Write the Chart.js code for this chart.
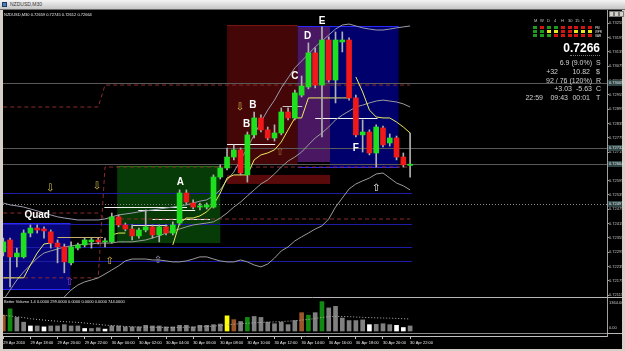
<!DOCTYPE html>
<html>
<head>
<meta charset="utf-8">
<title>NZDUSD,M30</title>
<script src="https://cdn.jsdelivr.net/npm/chart.js@4.4.1/dist/chart.umd.min.js"></script>
<style>
html,body{margin:0;padding:0;}
body{width:625px;height:351px;overflow:hidden;background:#d4d0c8;position:relative;font-family:"Liberation Sans",Arial,sans-serif;}
#titlebar{position:absolute;left:0;top:0;width:625px;height:9px;background:linear-gradient(#f4f4f4,#c6c6c6);border-bottom:1px solid #6a6a6a;}
#titlebar .ico{position:absolute;left:2px;top:2px;width:5px;height:5px;background:#4a7fb8;border:1px solid #1c3c66;box-sizing:border-box;}
.tiny{position:absolute;white-space:nowrap;transform-origin:0 0;transform:scale(0.5);font-size:8px;line-height:8px;}
#cv{position:absolute;left:0;top:10px;}
#btns{position:absolute;left:609px;top:11px;width:15px;height:6px;}
#btns span{position:absolute;top:0;width:5px;height:6px;background:#d4d0c8;border:1px solid #7a7a7a;box-sizing:border-box;}
.info{position:absolute;white-space:nowrap;color:#d2d2d2;font-size:7px;line-height:7px;}
.r{text-align:right;}
.blk{position:absolute;width:4px;height:3px;}
</style>
</head>
<body>
<div id="titlebar"><div class="ico"></div><div class="tiny" style="left:10px;top:2px;color:#333;font-size:10px;line-height:10px;">NZDUSD,M30</div></div>
<canvas id="cv" width="625" height="341"></canvas>
<div id="btns"><span style="left:0"></span><span style="left:5px"></span><span style="left:10px"></span></div>
<div class="tiny" style="left:4px;top:13px;color:#e8e8e8;">NZDUSD,M30 0.72659 0.72745 0.72612 0.72664</div>
<div class="tiny" style="left:4px;top:300px;color:#e8e8e8;">Better Volume 1.4 0.0000 299.0000 0.0000 0.0000 0.0000 744.0000</div>
<div id="panel"></div>
<script>
// ---------------- data ----------------
const timeLabels = ['29 Apr 2010','29 Apr 18:00','29 Apr 20:00','29 Apr 22:00','30 Apr 00:00','30 Apr 02:00','30 Apr 04:00','30 Apr 06:00','30 Apr 08:00','30 Apr 10:00','30 Apr 12:00','30 Apr 14:00','30 Apr 16:00','30 Apr 18:00','30 Apr 20:00','30 Apr 22:00'];
const priceTicks = [0.72115,0.72175,0.72235,0.72295,0.72355,0.72415,0.72475,0.72535,0.72595,0.72655,0.72715,0.72775,0.72835,0.72895,0.72955,0.73015,0.73075,0.73135,0.73195,0.73255];

const opens = [0.72296,0.72346,0.72275,0.72275,0.72375,0.72396,0.72392,0.72380,0.72333,0.72317,
 0.72250,0.72312,0.72325,0.72338,0.72346,0.72338,0.72338,0.72443,0.72409,0.72392,
 0.72363,0.72388,0.72401,0.72367,0.72401,0.72375,0.72417,0.72543,0.72501,0.72484,
 0.72484,0.72484,0.72610,0.72648,0.72694,0.72724,0.72619,0.72787,0.72858,0.72808,
 0.72774,0.72795,0.72883,0.72858,0.72954,0.72988,0.73131,0.72996,0.73185,0.73017,
 0.73177,0.73185,0.72942,0.72787,0.72799,0.72711,0.72816,0.72753,0.72774,0.72694,
 0.72659];
const highs = [0.72354,0.72354,0.72312,0.72388,0.72409,0.72409,0.72401,0.72388,0.72346,0.72329,
 0.72338,0.72333,0.72354,0.72354,0.72354,0.72354,0.72459,0.72451,0.72417,0.72409,
 0.72396,0.72472,0.72409,0.72409,0.72409,0.72422,0.72556,0.72556,0.72514,0.72501,
 0.72501,0.72619,0.72661,0.72732,0.72745,0.72732,0.72799,0.72883,0.72871,0.72820,
 0.72829,0.72900,0.72900,0.72975,0.73034,0.73173,0.73152,0.73240,0.73198,0.73219,
 0.73219,0.73194,0.72954,0.72850,0.72808,0.72829,0.72824,0.72791,0.72782,0.72711,
 0.72795];
const lows = [0.72279,0.72149,0.72233,0.72270,0.72359,0.72375,0.72354,0.72312,0.72250,0.72208,
 0.72241,0.72304,0.72317,0.72312,0.72329,0.72317,0.72333,0.72401,0.72384,0.72346,
 0.72354,0.72380,0.72354,0.72338,0.72367,0.72367,0.72409,0.72497,0.72476,0.72472,
 0.72476,0.72480,0.72602,0.72640,0.72682,0.72619,0.72589,0.72774,0.72799,0.72766,
 0.72761,0.72787,0.72850,0.72850,0.72946,0.72980,0.72984,0.72778,0.73009,0.72921,
 0.73135,0.72933,0.72778,0.72715,0.72703,0.72652,0.72736,0.72740,0.72682,0.72652,
 0.72610];
const closes = [0.72338,0.72275,0.72291,0.72375,0.72396,0.72388,0.72384,0.72333,0.72317,0.72254,
 0.72317,0.72325,0.72346,0.72346,0.72338,0.72342,0.72443,0.72409,0.72392,0.72363,
 0.72388,0.72401,0.72367,0.72401,0.72375,0.72409,0.72543,0.72505,0.72484,0.72489,
 0.72493,0.72610,0.72648,0.72694,0.72724,0.72627,0.72787,0.72858,0.72808,0.72774,
 0.72795,0.72883,0.72858,0.72963,0.72992,0.73131,0.72996,0.73185,0.73017,0.73185,
 0.73185,0.72942,0.72787,0.72799,0.72711,0.72820,0.72745,0.72774,0.72694,0.72661,
 0.72664];

const volumes = [695,973,598,389,222,222,181,222,222,278,
 222,222,111,111,139,83,222,222,181,181,
 181,250,222,222,181,181,250,250,181,250,
 250,278,306,667,500,417,598,639,598,389,
 320,389,278,459,806,695,806,1293,1015,1084,
 570,459,459,487,278,292,320,278,250,153,
 222];
const volumeKinds = ['brown','green','grey','grey','white','grey','white','grey','grey','grey',
 'grey','grey','white','grey','grey','white','grey','grey','grey','grey',
 'grey','grey','grey','grey','grey','grey','grey','grey','grey','grey',
 'grey','grey','grey','yellow','brown','grey','green','grey','grey','grey',
 'grey','grey','grey','grey','brown','green','grey','green','grey','grey',
 'grey','grey','grey','grey','white','grey','grey','grey','white','white',
 'grey'];
const volumeAverage = [690,660,630,590,540,510,480,455,430,410,
 395,380,350,320,290,260,240,220,200,185,
 175,170,165,160,155,155,160,165,170,180,
 195,215,240,270,300,320,340,360,375,390,
 400,415,430,450,480,510,550,600,630,640,
 640,630,615,600,590,580,570,565,555,540,
 530];

const bandUpper = [0.72501,0.72493,0.72489,0.72484,0.72476,0.72468,0.72459,0.72451,0.72443,0.72438,
 0.72434,0.72430,0.72430,0.72430,0.72430,0.72434,0.72443,0.72451,0.72455,0.72459,
 0.72464,0.72468,0.72472,0.72476,0.72480,0.72484,0.72489,0.72493,0.72501,0.72509,
 0.72514,0.72531,0.72556,0.72598,0.72631,0.72682,0.72732,0.72787,0.72841,0.72891,
 0.72933,0.72984,0.73026,0.73068,0.73097,0.73126,0.73156,0.73181,0.73206,0.73231,
 0.73248,0.73252,0.73244,0.73236,0.73231,0.73227,0.73227,0.73231,0.73236,0.73240,
 0.73244];
const bandMiddle = [0.72094,0.72136,0.72178,0.72212,0.72241,0.72270,0.72291,0.72300,0.72308,0.72317,
 0.72321,0.72325,0.72329,0.72329,0.72333,0.72333,0.72333,0.72338,0.72338,0.72338,
 0.72342,0.72346,0.72354,0.72363,0.72375,0.72384,0.72392,0.72401,0.72409,0.72413,
 0.72417,0.72422,0.72438,0.72459,0.72484,0.72505,0.72531,0.72556,0.72581,0.72598,
 0.72623,0.72652,0.72677,0.72694,0.72715,0.72745,0.72774,0.72795,0.72820,0.72850,
 0.72870,0.72887,0.72904,0.72912,0.72921,0.72929,0.72933,0.72929,0.72925,0.72917,
 0.72904];
const bandLower = [null,null,null,null,null,null,null,null,null,0.72107,
 0.72136,0.72157,0.72170,0.72178,0.72187,0.72203,0.72220,0.72237,0.72258,0.72266,
 0.72266,0.72266,0.72262,0.72262,0.72258,0.72254,0.72254,0.72258,0.72266,0.72275,
 0.72275,0.72266,0.72258,0.72254,0.72254,0.72262,0.72254,0.72241,0.72233,0.72245,
 0.72270,0.72300,0.72317,0.72342,0.72359,0.72375,0.72392,0.72405,0.72434,0.72484,
 0.72522,0.72560,0.72581,0.72594,0.72606,0.72623,0.72627,0.72606,0.72585,0.72573,
 0.72556];
const trailSupport = [0.72187,0.72187,0.72187,0.72187,0.72241,0.72291,0.72329,0.72333,null,null,
 null,null,null,null,null,null,0.72367,0.72375,0.72375,null,
 null,null,null,null,null,0.72325,0.72417,0.72438,0.72438,0.72447,
 0.72464,0.72493,0.72543,0.72606,0.72619,0.72619,0.72619,0.72682,0.72703,0.72711,
 0.72724,0.72757,0.72808,0.72858,0.72858,0.72942,0.72942,0.72942,0.72942,0.72942,
 0.72942,0.72942,null,null,null,null,null,null,null,null,
 null];
const trailResist = [null,null,null,null,null,null,null,null,null,null,
 null,null,null,null,null,null,null,null,null,null,
 null,null,null,null,null,null,null,null,null,null,
 null,null,null,null,null,null,null,null,null,null,
 null,null,null,null,null,null,null,null,null,null,
 null,null,0.73030,0.72967,0.72891,0.72862,0.72858,0.72858,0.72841,0.72820,
 0.72795];
const levelUpper = Array(15).fill(0.72904).concat(Array(46).fill(0.72996));
const levelMiddle = Array(15).fill(0.72459).concat(Array(46).fill(0.72434));
const levelLower = Array(15).fill(0.72187).concat(Array(46).fill(0.72652));

// annotation objects (bar index / price coordinates)
const zones = [
 {i0:-0.5, i1:9.9,  top:0.72417, bottom:0.72140, kind:'quad'},
 {i0:16.8, i1:32.0, top:0.72657, bottom:0.72333, kind:'green'},
 {i0:33.0, i1:43.4, top:0.73248, bottom:0.72661, kind:'maroon'},
 {i0:43.4, i1:48.2, top:0.73244, bottom:0.72673, kind:'purple'},
 {i0:48.2, i1:58.3, top:0.73244, bottom:0.72652, kind:'navy'},
 {i0:33.0, i1:48.2, top:0.72619, bottom:0.72581, kind:'strip'}
];
const priceLines = [
 {p:0.73005, kind:'grey', label:'0.73005'},
 {p:0.72732, kind:'grey', label:'0.72732'},
 {p:0.72664, kind:'grey', label:'0.72664'},
 {p:0.72497, kind:'dot',  label:'0.72497'}
];
const segments = [
 {i0:-0.5, i1:60.3, p:0.72543, kind:'blue'},
 {i0:-0.5, i1:60.3, p:0.72413, kind:'blue'},
 {i0:-0.5, i1:60.3, p:0.72317, kind:'blue'},
 {i0:-0.5, i1:60.3, p:0.72258, kind:'blue'},
 {i0:-0.5, i1:9.9,  p:0.72417, kind:'blueEdge'},
 {i0:-0.5, i1:9.9,  p:0.72140, kind:'blueEdge'},
 {i0:16.8, i1:32.0, p:0.72657, kind:'greenEdge'},
 {i0:33.0, i1:43.4, p:0.73248, kind:'redEdge'},
 {i0:43.4, i1:58.3, p:0.73244, kind:'blueEdge'},
 {i0:43.4, i1:58.3, p:0.72652, kind:'blueEdge'},
 {i0:14.9, i1:27.1, p:0.72484, kind:'white'},
 {i0:19.9, i1:28.3, p:0.72472, kind:'white'},
 {i0:22.0, i1:30.5, p:0.72434, kind:'white'},
 {i0:19.0, i1:24.2, p:0.72409, kind:'pale'},
 {i0:8.0,  i1:14.7, p:0.72359, kind:'khaki'},
 {i0:33.0, i1:40.1, p:0.72749, kind:'white'},
 {i0:41.2, i1:44.1, p:0.72909, kind:'silver'},
 {i0:46.0, i1:55.2, p:0.72858, kind:'white'}
];
const arrows = [
 {i:6.9,  p:0.72564, ch:'\u21E9', kind:'khaki'},
 {i:13.8, p:0.72569, ch:'\u21E9', kind:'khaki'},
 {i:15.7, p:0.72254, ch:'\u21E7', kind:'khaki'},
 {i:22.8, p:0.72262, ch:'\u21E7', kind:'slate'},
 {i:9.8,  p:0.72166, ch:'\u21E7', kind:'violet'},
 {i:34.9, p:0.72904, ch:'\u21E9', kind:'khaki'},
 {i:40.8, p:0.72715, ch:'\u21E7', kind:'brown'},
 {i:55.0, p:0.72564, ch:'\u21E7', kind:'white'}
];
const letters = [
 {i:5.0,  p:0.72451, t:'Quad'},
 {i:26.1, p:0.72589, t:'A'},
 {i:36.8, p:0.72912, t:'B'},
 {i:35.9, p:0.72833, t:'B'},
 {i:43.0, p:0.73034, t:'C'},
 {i:44.9, p:0.73202, t:'D'},
 {i:47.0, p:0.73264, t:'E'},
 {i:52.0, p:0.72732, t:'F'}
];
const volumeScaleLabels = [{v:1364, t:'1364.00'}, {v:0, t:'0.00'}];

// info panel
const tfLabels = ['M','W','D','4','H','30','15','5','1'];
const tfRows = ['PM','WPR','SAR'];
const tfStates = [
 ['g','r','g','g','r','r','r','r','r'],
 ['g','g','y','y','r','r','y','y','y'],
 ['g','g','g','r','r','r','r','r','r']
];
const lastPrice = '0.7266';

// ---------------- styles ----------------
const zoneFill = {quad:'#06067a', green:'#063a06', maroon:'#440606', purple:'#4a1862', navy:'#00006c', strip:'#5a0a0a'};
const segColor = {blue:'#1c1ca8', blueEdge:'#2a2aff', greenEdge:'#137a13', redEdge:'#7a1616', white:'#f2f2f2', pale:'#e4e4b8', khaki:'#c8b070', silver:'#c4c4c4'};
const arrowColor = {khaki:'#d6c04a', slate:'#9a9ab8', violet:'#9040d0', brown:'#a86a30', white:'#ffffff'};
const volColor = {grey:'#808080', white:'#ffffff', green:'#118a11', brown:'#9a5528', yellow:'#ffff00'};
const tfColor = {g:'#1d9a1d', r:'#d01414', y:'#e6e61e'};

// ---------------- info panel (HTML text) ----------------
(function(){
  const panel = document.getElementById('panel');
  let h = '';
  tfLabels.forEach((t,k)=>{
    const cx = 535 + k*6.9;
    h += `<div class="tiny" style="left:${cx-1.5}px;top:19px;color:#c8c8c8;">${t}</div>`;
    tfStates.forEach((row,r)=>{
      h += `<div class="blk" style="left:${cx-2}px;top:${26+r*4}px;background:${tfColor[row[k]]};"></div>`;
    });
  });
  tfRows.forEach((t,r)=>{
    h += `<div class="tiny" style="left:595px;top:${26+r*4}px;color:#e0e0e0;font-size:6px;line-height:6px;">${t}</div>`;
  });
  h += `<div class="info r" style="left:540px;width:60px;top:42px;font-size:12px;line-height:12px;font-weight:bold;color:#fff;">${lastPrice}</div>`;
  h += `<div style="position:absolute;left:570px;top:55px;width:30px;border-top:1px dotted #777;"></div>`;
  const rows = [
    [[592,'6.9 (9.0%)']], [[558,'+32'],[590,'10.82']], [[592,'92 / 76 (120%)']],
    [[572,'+3.03'],[592,'-5.63']], [[543,'22:59'],[568,'09:43'],[590,'00:01']]
  ];
  const tags = ['S','$','R','C','T'];
  const ys = [59,68,77,85,94];
  rows.forEach((row,r)=>{
    row.forEach(([right,t])=>{ h += `<div class="info r" style="left:${right-60}px;width:60px;top:${ys[r]}px;">${t}</div>`; });
    h += `<div class="info" style="left:596px;top:${ys[r]}px;">${tags[r]}</div>`;
  });
  panel.innerHTML = h;
})();

// ---------------- chart ----------------
const yMax = 0.73311, yMin = 0.71943;       // price range of the plot area
const mainFloor = 0.72107;                   // bottom of the price pane
const volTop = 1452, volBottom = -44;        // volume pane limits
const idx = opens.map((_,i)=>i);
const pts = arr => arr.map((v,i)=>({x:i, y:v}));

function hline(ctx, x0, x1, py, color, dash){
  ctx.save(); ctx.strokeStyle = color; ctx.lineWidth = 1; ctx.setLineDash(dash||[]);
  const yy = Math.round(py) + 0.5;
  ctx.beginPath(); ctx.moveTo(x0, yy); ctx.lineTo(x1, yy); ctx.stroke(); ctx.restore();
}

const overlay = {
  id:'overlay',
  beforeDraw(chart){
    const {ctx, chartArea:a} = chart;
    ctx.save(); ctx.fillStyle = '#000';
    ctx.fillRect(a.left, 0, a.right + 15 - a.left, a.bottom + 13);
    ctx.restore();
  },
  beforeDatasetsDraw(chart){
    const {ctx, chartArea:a, scales:{x, y}} = chart;
    const floor = y.getPixelForValue(mainFloor);
    ctx.save(); ctx.beginPath(); ctx.rect(a.left, a.top, a.right - a.left, floor - a.top); ctx.clip();
    zones.forEach(z=>{
      const x0 = x.getPixelForValue(z.i0), x1 = x.getPixelForValue(z.i1);
      const y0 = y.getPixelForValue(z.top), y1 = y.getPixelForValue(z.bottom);
      ctx.fillStyle = zoneFill[z.kind]; ctx.fillRect(x0, y0, x1 - x0, y1 - y0);
    });
    priceLines.forEach(l=>{
      hline(ctx, a.left, a.right, y.getPixelForValue(l.p), l.kind === 'dot' ? '#8a8a8a' : '#5a5a5a', l.kind === 'dot' ? [1,2] : []);
    });
    segments.forEach(s=>{
      hline(ctx, x.getPixelForValue(s.i0), x.getPixelForValue(s.i1), y.getPixelForValue(s.p), segColor[s.kind]);
    });
    ctx.restore();
  },
  beforeDatasetDraw(chart, args){
    const {ctx, chartArea:a, scales:{y, yv}} = chart;
    const ds = chart.data.datasets[args.index];
    let top, bottom;
    if (ds.pane === 'vol') { top = yv.getPixelForValue(volTop); bottom = yv.getPixelForValue(volBottom); }
    else { top = a.top; bottom = y.getPixelForValue(mainFloor); }
    ctx.save(); ctx.beginPath(); ctx.rect(a.left, top, a.right - a.left, bottom - top); ctx.clip();
  },
  afterDatasetDraw(chart){ chart.ctx.restore(); },
  afterDatasetsDraw(chart){
    const {ctx, chartArea:a, scales:{x, y, yv}} = chart;
    const floor = y.getPixelForValue(mainFloor);
    ctx.save(); ctx.beginPath(); ctx.rect(a.left, a.top, a.right - a.left, floor - a.top); ctx.clip();
    ctx.textAlign = 'center'; ctx.textBaseline = 'middle';
    ctx.font = '10px "DejaVu Sans"';
    arrows.forEach(m=>{ ctx.fillStyle = arrowColor[m.kind]; ctx.fillText(m.ch, x.getPixelForValue(m.i), y.getPixelForValue(m.p)); });
    ctx.font = 'bold 10px "Liberation Sans"'; ctx.fillStyle = '#ffffff';
    letters.forEach(m=>{ ctx.fillText(m.t, x.getPixelForValue(m.i), y.getPixelForValue(m.p)); });
    ctx.restore();
    // pane separators
    const R = a.right + 15;
    hline(ctx, a.left, R, floor, '#b8b8b8');
    hline(ctx, a.left, R, yv.getPixelForValue(volBottom) + 1, '#b8b8b8');
    hline(ctx, a.left, a.right, a.bottom - 3, '#8a8a8a');
    // right axis extras
    ctx.save();
    ctx.font = '4px "Liberation Sans"'; ctx.textAlign = 'left'; ctx.textBaseline = 'middle';
    priceLines.forEach(l=>{
      const py = Math.round(y.getPixelForValue(l.p));
      ctx.fillStyle = '#2f4646'; ctx.fillRect(a.right + 1, py - 3, 14, 6);
      ctx.fillStyle = '#e6e6e6'; ctx.fillText(l.label, a.right + 2, py);
    });
    ctx.fillStyle = '#c8c8c8';
    volumeScaleLabels.forEach(l=>{ ctx.fillText(l.t, a.right + 2, yv.getPixelForValue(l.v) + (l.v ? 3 : -3)); });
    ctx.restore();
  }
};

const bodyColors = opens.map((o,i)=> closes[i] >= o ? '#1ee01e' : '#f01818');

new Chart(document.getElementById('cv'), {
  type:'bar',
  data:{
    datasets:[
      {type:'bar', label:'bodies', pane:'main', yAxisID:'y', order:1, grouped:false, barThickness:5, minBarLength:1,
       data: idx.map(i=>({x:i, y:[opens[i], closes[i]]})), backgroundColor: bodyColors, borderWidth:0},
      {type:'bar', label:'wicks', pane:'main', yAxisID:'y', order:2, grouped:false, barThickness:1,
       data: idx.map(i=>({x:i, y:[lows[i], highs[i]]})), backgroundColor:'#b0b0b0', borderWidth:0},
      {type:'line', label:'trail support', pane:'main', yAxisID:'y', order:3, data: pts(trailSupport), borderColor:'#ecec62', borderWidth:1, pointRadius:0, tension:0},
      {type:'line', label:'trail resistance', pane:'main', yAxisID:'y', order:3, data: pts(trailResist), borderColor:'#ecec62', borderWidth:1, pointRadius:0, tension:0},
      {type:'line', label:'upper band', pane:'main', yAxisID:'y', order:4, data: pts(bandUpper), borderColor:'#9c9cb0', borderWidth:1, pointRadius:0, tension:0},
      {type:'line', label:'middle band', pane:'main', yAxisID:'y', order:4, data: pts(bandMiddle), borderColor:'#9c9c9c', borderWidth:1, pointRadius:0, tension:0},
      {type:'line', label:'lower band', pane:'main', yAxisID:'y', order:4, data: pts(bandLower), borderColor:'#9c9c9c', borderWidth:1, pointRadius:0, tension:0},
      {type:'line', label:'level upper', pane:'main', yAxisID:'y', order:5, data: pts(levelUpper), borderColor:'#8a2c2c', borderWidth:1, borderDash:[4,3], pointRadius:0, tension:0},
      {type:'line', label:'level middle', pane:'main', yAxisID:'y', order:5, data: pts(levelMiddle), borderColor:'#8a2c2c', borderWidth:1, borderDash:[4,3], pointRadius:0, tension:0},
      {type:'line', label:'level lower', pane:'main', yAxisID:'y', order:5, data: pts(levelLower), borderColor:'#8a2c2c', borderWidth:1, borderDash:[4,3], pointRadius:0, tension:0},
      {type:'bar', label:'volume', pane:'vol', yAxisID:'yv', order:1, grouped:false, barThickness:4,
       data: pts(volumes), backgroundColor: volumeKinds.map(k=>volColor[k]), borderWidth:0},
      {type:'line', label:'volume average', pane:'vol', yAxisID:'yv', order:0, data: pts(volumeAverage), borderColor:'#b8b8b8', borderWidth:1, borderDash:[1,2], pointRadius:0, tension:0}
    ]
  },
  options:{
    responsive:false, animation:false, devicePixelRatio:1,
    layout:{padding:{left:3, right:3, top:0, bottom:2}},
    plugins:{legend:{display:false}, tooltip:{enabled:false}},
    scales:{
      x:{type:'linear', min:-0.044, max:89.04, offset:false,
         afterBuildTicks: s=>{ s.ticks = timeLabels.map((_,k)=>({value:k*4})); },
         afterFit: s=>{ s.height = 13; s.paddingLeft = 0; s.paddingRight = 0; },
         ticks:{autoSkip:false, maxRotation:0, minRotation:0, align:'start', padding:1, color:'#e8e8e8',
                font:{size:4, family:'Liberation Sans'}, callback: v => timeLabels[Math.round(v/4)] ?? ''},
         grid:{drawOnChartArea:false, offset:false, color:'#c0c0c0', tickLength:3},
         border:{color:'#c0c0c0'}},
      y:{position:'right', min:yMin, max:yMax,
         afterBuildTicks: s=>{ s.ticks = priceTicks.map(v=>({value:v})); },
         afterFit: s=>{ s.width = 15; s.paddingTop = 0; s.paddingBottom = 0; },
         ticks:{autoSkip:false, padding:0, color:'#c4c4c4', font:{size:4, family:'Liberation Sans'}, callback: v => v.toFixed(5)},
         grid:{drawOnChartArea:false, color:'#a0a0a0', tickLength:2},
         border:{color:'#a0a0a0'}},
      yv:{display:false, position:'right', min:-220, max:14124}
    }
  },
  plugins:[overlay]
});
</script>
</body>
</html>
